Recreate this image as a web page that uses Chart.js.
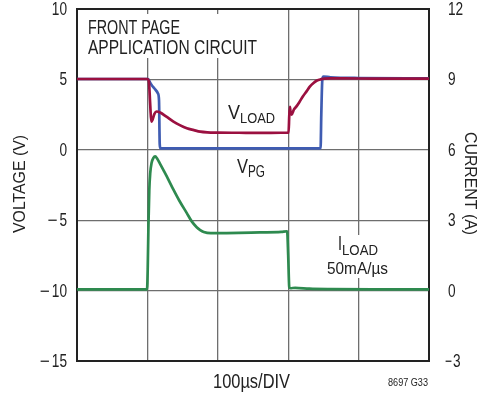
<!DOCTYPE html>
<html>
<head>
<meta charset="utf-8">
<script src="https://cdn.jsdelivr.net/npm/chart.js@4.4.0/dist/chart.umd.min.js"></script>
<style>
  html, body { margin: 0; padding: 0; background: #fff; }
</style>
</head>
<body>
<canvas id="chart" width="482" height="393"></canvas>
<script>
// time in µs (100µs/DIV)
const vLoadTime = [0, 100, 102, 104, 105.5, 107, 110, 113, 118, 127, 137, 146, 156, 166, 175, 185, 200, 230, 260, 290, 300.5, 301.5, 302.5, 303.5, 305, 308, 312, 316, 321, 326, 331, 336, 341, 346, 352, 360, 380, 420, 460, 500];
const vLoad     = [5.03, 5.03, 4.9, 3.2, 2.0, 2.1, 2.55, 2.72, 2.65, 2.35, 2.0, 1.75, 1.53, 1.4, 1.29, 1.24, 1.22, 1.21, 1.2, 1.21, 1.22, 2.4, 3.05, 2.6, 2.5, 2.85, 3.1, 3.4, 3.8, 4.15, 4.5, 4.75, 4.92, 5.0, 5.05, 5.07, 5.07, 5.06, 5.06, 5.06];

const vPgTime = [0, 101, 103, 106, 110, 115, 116.5, 117.5, 118.5, 150, 200, 250, 300, 346, 347, 348.5, 350, 360, 400, 500];
const vPg     = [5.03, 5.03, 4.85, 4.6, 4.35, 4.0, 3.5, 0.4, 0.1, 0.1, 0.1, 0.1, 0.1, 0.1, 2.5, 5.0, 5.2, 5.15, 5.1, 5.08];

const iLoadTime = [0, 99.5, 100.5, 101.5, 102.7, 104, 106, 108.5, 111, 114, 118, 123, 130, 137, 145, 156, 163, 170, 175, 180, 190, 200, 230, 260, 290, 298.5, 300, 301.5, 303, 310, 330, 360, 420, 500];
const iLoad     = [0.05, 0.05, 1.0, 2.8, 4.3, 5.0, 5.45, 5.65, 5.72, 5.62, 5.4, 5.12, 4.72, 4.3, 3.85, 3.3, 2.95, 2.7, 2.58, 2.5, 2.45, 2.45, 2.46, 2.48, 2.5, 2.53, 1.5, 0.15, 0.1, 0.12, 0.08, 0.06, 0.05, 0.05];

const FONT = '"Liberation Sans", Arial, sans-serif';
const INK = '#222';
const GRID = '#6e6e6e';

function pts(ts, vs) {
    return ts.map((t, i) => ({ x: t, y: vs[i] }));
}

// squeeze text to a given width, giving a condensed look
function drawFit(ctx, text, x, y, size, width, align) {
    ctx.font = size + 'px ' + FONT;
    const w = ctx.measureText(text).width;
    let dx = 0;
    if (align === 'center') dx = -w / 2;
    else if (align === 'right') dx = -w;
    ctx.save();
    ctx.translate(x, y);
    ctx.scale(width / w, 1);
    ctx.textAlign = 'left';
    ctx.fillText(text, dx, 0);
    ctx.restore();
}

function drawTick(ctx, v, x, y, side) {
    const digits = String(Math.abs(v));
    const dw = 7.6 * digits.length;
    if (side === 'left') {
        drawFit(ctx, digits, x, y, 18, dw, 'right');
        if (v < 0) drawFit(ctx, '\u2212', x - dw - 2, y, 18, 10, 'right');
    } else {
        if (v < 0) {
            drawFit(ctx, '\u2212', x - 3, y, 18, 7, 'left');
            drawFit(ctx, digits, x + 5, y, 18, dw, 'left');
        } else {
            drawFit(ctx, digits, x, y, 18, dw, 'left');
        }
    }
}

const annotations = {
    id: 'annotations',
    beforeDatasetsDraw(chart) {
        const ctx = chart.ctx;
        ctx.save();
        // white boxes behind labels that sit over grid lines
        ctx.fillStyle = '#fff';
        ctx.fillRect(84, 14, 180, 44);
        ctx.fillRect(324, 235, 68, 43);

        ctx.fillStyle = INK;
        ctx.textBaseline = 'alphabetic';
        drawFit(ctx, 'FRONT PAGE', 88, 34, 20, 92, 'left');
        drawFit(ctx, 'APPLICATION CIRCUIT', 88, 53.5, 20, 169, 'left');

        // V_LOAD
        drawFit(ctx, 'V', 228, 119, 20, 12, 'left');
        drawFit(ctx, 'LOAD', 240, 123, 15, 35, 'left');
        // V_PG
        drawFit(ctx, 'V', 237, 173, 20, 11, 'left');
        drawFit(ctx, 'PG', 248, 177, 16, 17, 'left');
        // I_LOAD
        drawFit(ctx, 'I', 338, 250, 20, 4, 'left');
        drawFit(ctx, 'LOAD', 342, 255, 15, 36, 'left');
        drawFit(ctx, '50mA/\u00b5s', 327, 274, 17, 61, 'left');
        ctx.restore();
    },
    afterDraw(chart) {
        const ctx = chart.ctx;
        ctx.save();
        ctx.fillStyle = INK;

        // tick labels, placed from the chart's own scales
        ctx.textBaseline = 'middle';
        const y = chart.scales.y;
        y.ticks.forEach(t => drawTick(ctx, t.value, 67, y.getPixelForValue(t.value) + 1, 'left'));
        const y1 = chart.scales.y1;
        y1.ticks.forEach(t => drawTick(ctx, t.value, 448, y1.getPixelForValue(t.value) + 1, 'right'));

        ctx.textBaseline = 'alphabetic';
        drawFit(ctx, '100\u00b5s/DIV', 251.5, 388, 20, 77, 'center');
        drawFit(ctx, '8697 G33', 428, 386, 11, 40, 'right');

        ctx.save();
        ctx.translate(25, 184);
        ctx.rotate(-Math.PI / 2);
        drawFit(ctx, 'VOLTAGE (V)', 0, 0, 17, 98, 'center');
        ctx.restore();

        ctx.save();
        ctx.translate(465, 183.5);
        ctx.rotate(Math.PI / 2);
        drawFit(ctx, 'CURRENT (A)', 0, 0, 17, 103, 'center');
        ctx.restore();

        ctx.restore();
    }
};

const ctx = document.getElementById('chart').getContext('2d');
new Chart(ctx, {
    type: 'line',
    data: {
        datasets: [
            {
                label: 'VLOAD',
                data: pts(vLoadTime, vLoad),
                borderColor: '#9b1040',
                borderWidth: 2.7,
                yAxisID: 'y'
            },
            {
                label: 'VPG',
                data: pts(vPgTime, vPg),
                borderColor: '#3f5cb2',
                borderWidth: 2.7,
                yAxisID: 'y'
            },
            {
                label: 'ILOAD',
                data: pts(iLoadTime, iLoad),
                borderColor: '#2e8a4f',
                borderWidth: 2.7,
                yAxisID: 'y1'
            }
        ]
    },
    options: {
        responsive: false,
        animation: false,
        events: [],
        layout: { padding: { top: 9, right: 0, left: 0, bottom: 0 } },
        elements: {
            point: { radius: 0 },
            line: { cubicInterpolationMode: 'monotone' }
        },
        plugins: {
            legend: { display: false },
            tooltip: { enabled: false }
        },
        scales: {
            x: {
                type: 'linear',
                min: 0,
                max: 500,
                ticks: { stepSize: 100, display: false },
                grid: { color: GRID, lineWidth: 1.3, drawTicks: false },
                border: { color: INK, width: 2 },
                afterFit: s => { s.height = 32; }
            },
            y: {
                position: 'left',
                min: -15,
                max: 10,
                ticks: { stepSize: 5, display: false },
                grid: {
                    color: c => c.tick && c.tick.value === 10 ? INK : GRID,
                    lineWidth: c => c.tick && c.tick.value === 10 ? 2 : 1.3,
                    drawTicks: false
                },
                border: { color: INK, width: 2 },
                afterFit: s => { s.width = 77; }
            },
            y1: {
                position: 'right',
                min: -3,
                max: 12,
                ticks: { stepSize: 3, display: false },
                grid: { drawOnChartArea: false, drawTicks: false },
                border: { color: INK, width: 2 },
                afterFit: s => { s.width = 53; }
            }
        }
    },
    plugins: [annotations]
});
</script>
</body>
</html>
